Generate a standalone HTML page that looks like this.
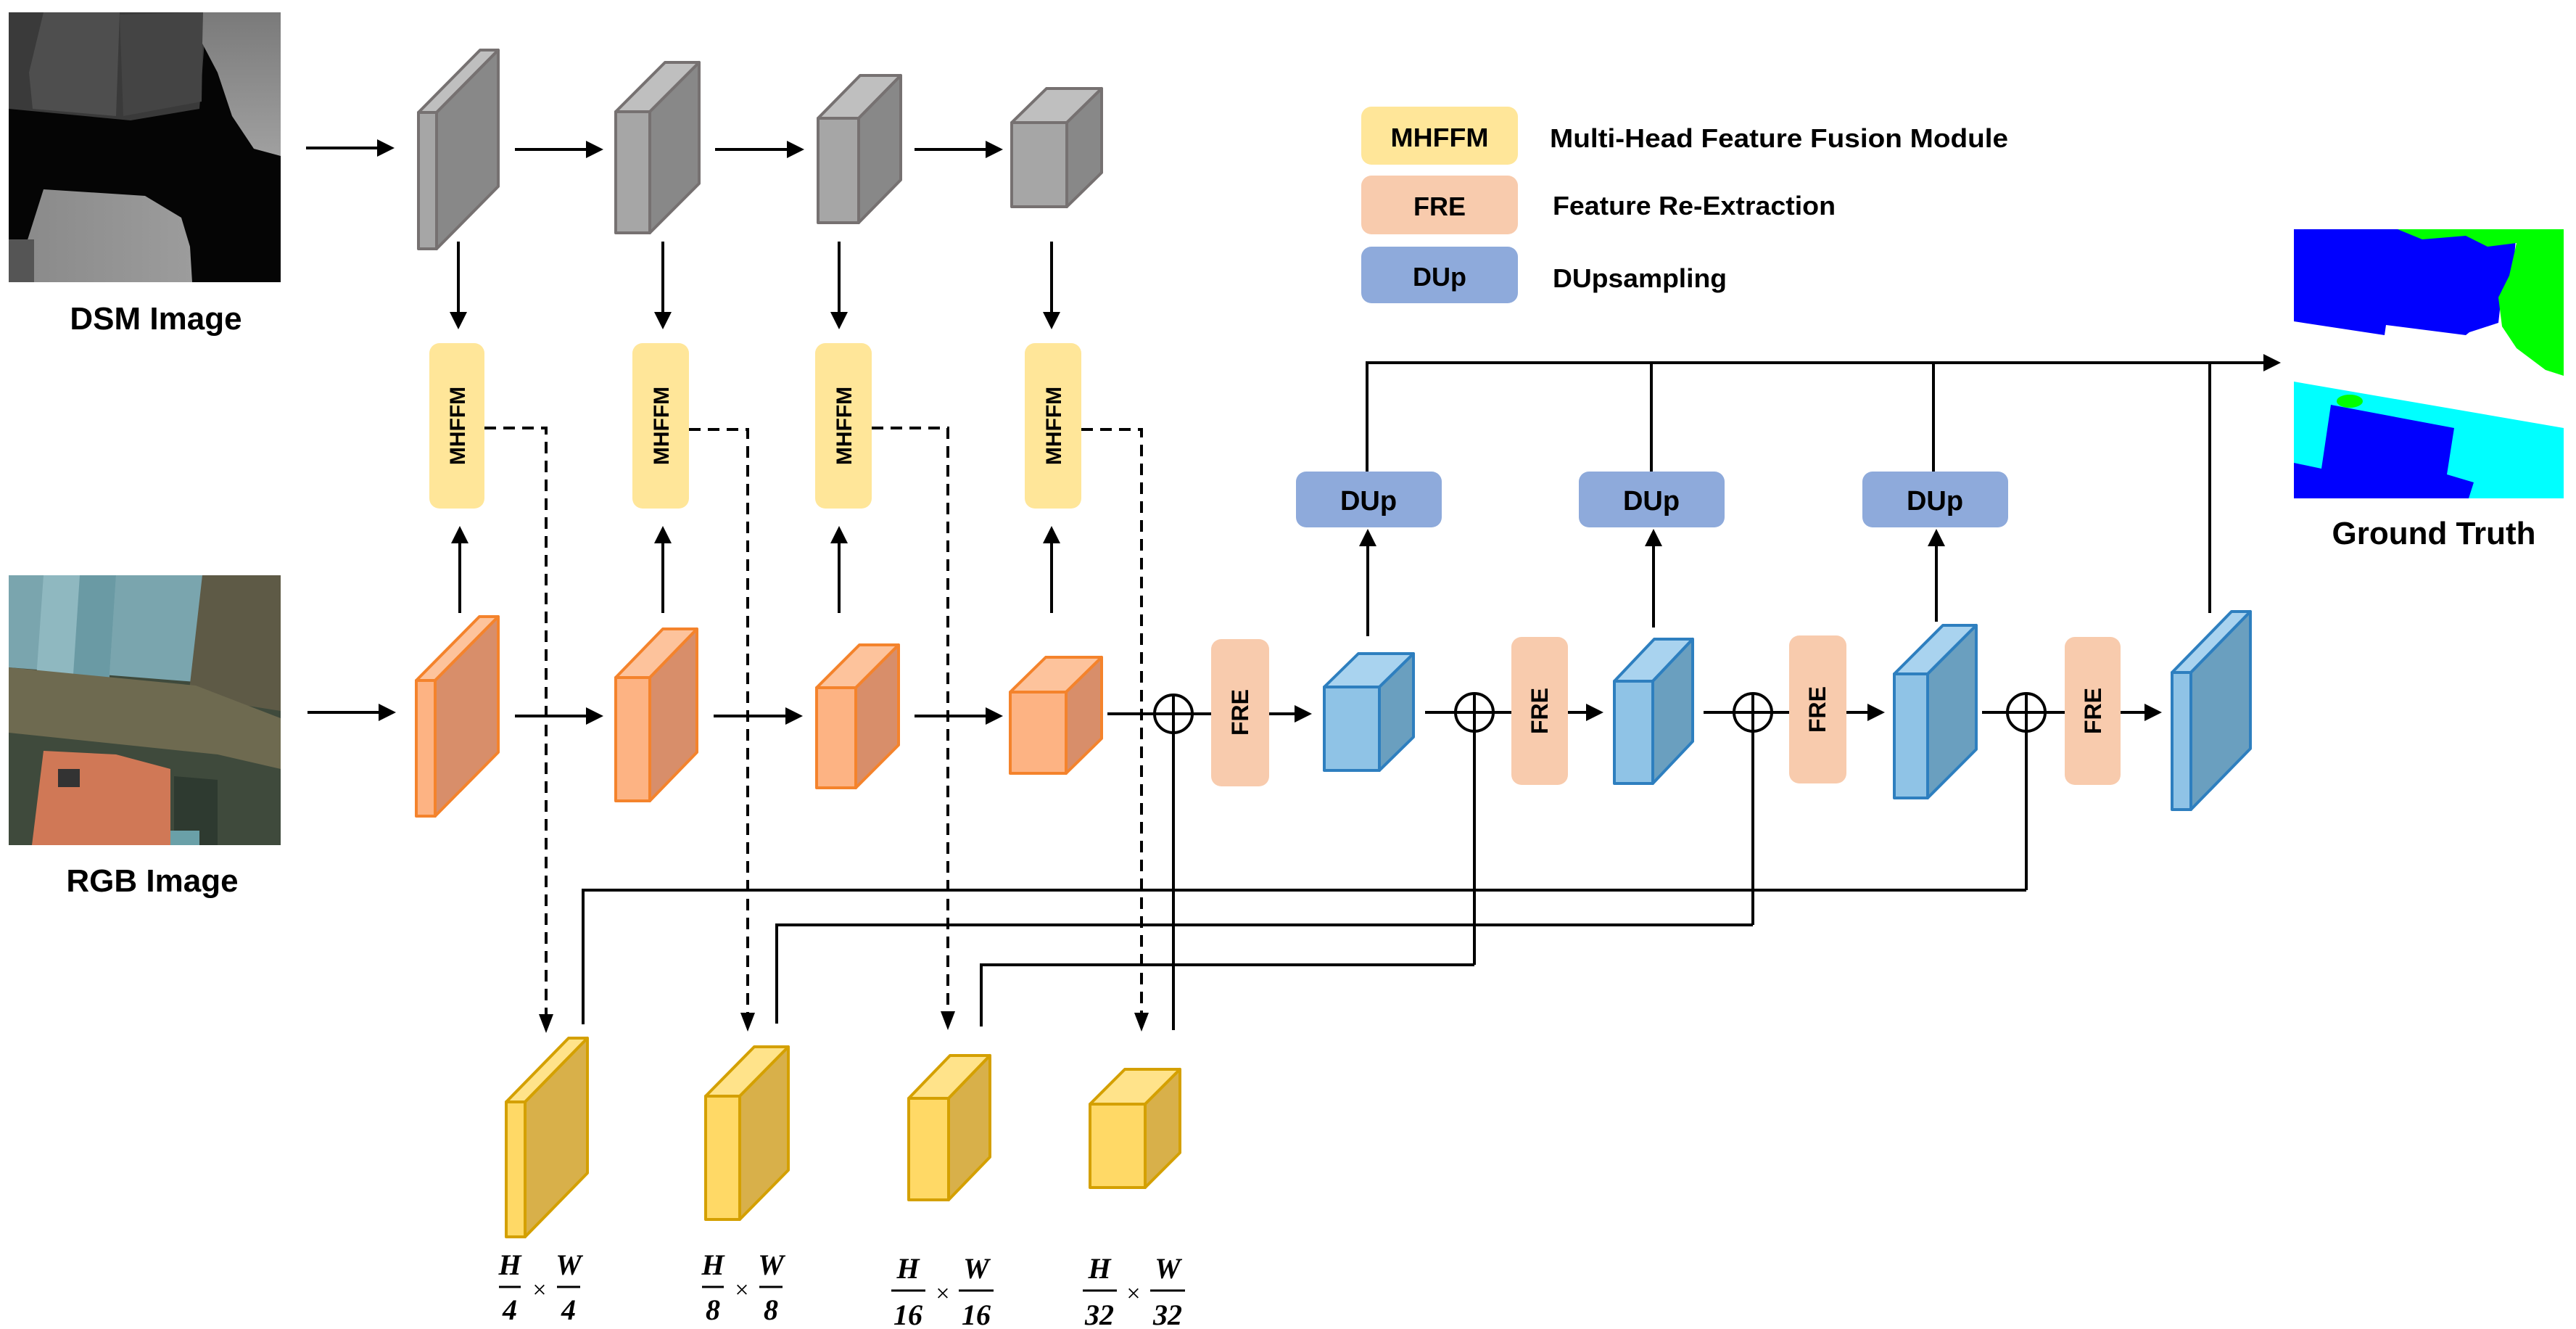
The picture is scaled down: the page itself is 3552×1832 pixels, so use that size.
<!DOCTYPE html>
<html><head><meta charset="utf-8"><style>
html,body{margin:0;padding:0;background:#fff;}
svg{display:block;}
.t{font-family:"Liberation Sans",sans-serif;font-weight:bold;fill:#000;}
.m{font-family:"Liberation Serif",serif;font-weight:bold;font-style:italic;fill:#000;font-size:40px;}
</style></head><body>
<svg width="3552" height="1832" viewBox="0 0 3552 1832" xmlns="http://www.w3.org/2000/svg">
<defs>
<marker id="a" markerWidth="6" markerHeight="6" refX="5" refY="3" orient="auto" markerUnits="strokeWidth"><path d="M0,0 L6,3 L0,6 z" fill="#000"/></marker>
<linearGradient id="dsm2" x1="0" y1="0" x2="1" y2="0"><stop offset="0" stop-color="#8a8a8a"/><stop offset="1" stop-color="#9c9c9c"/></linearGradient>
<linearGradient id="dsmR" x1="0" y1="0" x2="0" y2="1"><stop offset="0" stop-color="#7a7a7a"/><stop offset="1" stop-color="#a0a0a0"/></linearGradient>
</defs>

<!-- DSM image -->
<rect x="12" y="17" width="375" height="372" fill="#050505"/>
<polygon points="12,17 285,17 275,150 180,166 12,150" fill="#3a3a3a"/>
<polygon points="60,17 165,17 160,160 45,150 40,100" fill="#4e4e4e"/>
<polygon points="165,20 280,17 278,140 170,160" fill="#444"/>
<polygon points="280,17 387,17 387,215 350,205 320,160 300,100 279,60" fill="url(#dsmR)"/>
<polygon points="60,261 200,270 250,300 262,340 265,389 40,389 35,340" fill="url(#dsm2)"/>
<rect x="12" y="330" width="35" height="59" fill="#555"/>

<!-- RGB image -->
<rect x="12" y="793" width="375" height="372" fill="#3f4a3c"/>
<polygon points="12,793 279,793 270,940 12,920" fill="#7aa5ae"/>
<polygon points="60,793 160,793 150,945 50,935" fill="#8fb8c0"/>
<polygon points="110,793 160,793 150,945 100,945" fill="#6a9aa4"/>
<polygon points="279,793 387,793 387,980 260,960" fill="#5e5a46"/>
<polygon points="12,920 270,945 387,990 387,1060 300,1040 12,1010" fill="#6e6a50"/>
<polygon points="60,1035 160,1040 235,1060 235,1165 44,1165" fill="#d07856"/>
<rect x="80" y="1060" width="30" height="25" fill="#333"/>
<polygon points="240,1070 300,1075 300,1165 240,1165" fill="#2e3a30"/>
<rect x="235" y="1145" width="40" height="20" fill="#6aa0a8"/>

<text class="t" x="215" y="454" font-size="44" text-anchor="middle">DSM Image</text>
<text class="t" x="210" y="1229" font-size="44" text-anchor="middle">RGB Image</text>

<!-- Gray cubes -->
<g stroke="#767171" stroke-width="4" stroke-linejoin="round">
<polygon points="577,155 662,69 687,69 602,155" fill="#bfbfbf"/><polygon points="602,155 687,69 687,257 602,343" fill="#888"/><rect x="577" y="155" width="25" height="188" fill="#a6a6a6"/>
<polygon points="849,154 917,86 964,86 896,154" fill="#bfbfbf"/><polygon points="896,154 964,86 964,253 896,321" fill="#888"/><rect x="849" y="154" width="47" height="167" fill="#a6a6a6"/>
<polygon points="1128,163 1186,104 1242,104 1184,163" fill="#bfbfbf"/><polygon points="1184,163 1242,104 1242,248 1184,307" fill="#888"/><rect x="1128" y="163" width="56" height="144" fill="#a6a6a6"/>
<polygon points="1395,169 1443,122 1519,122 1471,169" fill="#bfbfbf"/><polygon points="1471,169 1519,122 1519,238 1471,285" fill="#888"/><rect x="1395" y="169" width="76" height="116" fill="#a6a6a6"/>
</g>

<!-- Orange cubes -->
<g stroke="#f4832c" stroke-width="4" stroke-linejoin="round">
<polygon points="574,938 661,850 687,850 600,938" fill="#fdc39c"/><polygon points="600,938 687,850 687,1037 600,1125" fill="#d88e6a"/><rect x="574" y="938" width="26" height="187" fill="#fdb383"/>
<polygon points="849,934 914,867 961,867 896,934" fill="#fdc39c"/><polygon points="896,934 961,867 961,1037 896,1104" fill="#d88e6a"/><rect x="849" y="934" width="47" height="170" fill="#fdb383"/>
<polygon points="1126,948 1185,889 1239,889 1180,948" fill="#fdc39c"/><polygon points="1180,948 1239,889 1239,1027 1180,1086" fill="#d88e6a"/><rect x="1126" y="948" width="54" height="138" fill="#fdb383"/>
<polygon points="1393,954 1442,906 1519,906 1470,954" fill="#fdc39c"/><polygon points="1470,954 1519,906 1519,1018 1470,1066" fill="#d88e6a"/><rect x="1393" y="954" width="77" height="112" fill="#fdb383"/>
</g>

<!-- Yellow cubes -->
<g stroke="#d4a000" stroke-width="4" stroke-linejoin="round">
<polygon points="698,1519 784,1431 810,1431 724,1519" fill="#ffe38a"/><polygon points="724,1519 810,1431 810,1617 724,1705" fill="#d8b04a"/><rect x="698" y="1519" width="26" height="186" fill="#ffd966"/>
<polygon points="973,1511 1040,1443 1087,1443 1020,1511" fill="#ffe38a"/><polygon points="1020,1511 1087,1443 1087,1613 1020,1681" fill="#d8b04a"/><rect x="973" y="1511" width="47" height="170" fill="#ffd966"/>
<polygon points="1253,1514 1310,1455 1365,1455 1308,1514" fill="#ffe38a"/><polygon points="1308,1514 1365,1455 1365,1595 1308,1654" fill="#d8b04a"/><rect x="1253" y="1514" width="55" height="140" fill="#ffd966"/>
<polygon points="1503,1522 1551,1474 1627,1474 1579,1522" fill="#ffe38a"/><polygon points="1579,1522 1627,1474 1627,1589 1579,1637" fill="#d8b04a"/><rect x="1503" y="1522" width="76" height="115" fill="#ffd966"/>
</g>

<!-- Blue cubes -->
<g stroke="#2e7fbf" stroke-width="4" stroke-linejoin="round">
<polygon points="1826,947 1873,901 1949,901 1902,947" fill="#a9d3ef"/><polygon points="1902,947 1949,901 1949,1016 1902,1062" fill="#6a9fbf"/><rect x="1826" y="947" width="76" height="115" fill="#8fc3e6"/>
<polygon points="2226,939 2281,881 2334,881 2279,939" fill="#a9d3ef"/><polygon points="2279,939 2334,881 2334,1022 2279,1080" fill="#6a9fbf"/><rect x="2226" y="939" width="53" height="141" fill="#8fc3e6"/>
<polygon points="2612,929 2679,862 2725,862 2658,929" fill="#a9d3ef"/><polygon points="2658,929 2725,862 2725,1033 2658,1100" fill="#6a9fbf"/><rect x="2612" y="929" width="46" height="171" fill="#8fc3e6"/>
<polygon points="2995,927 3077,843 3103,843 3021,927" fill="#a9d3ef"/><polygon points="3021,927 3103,843 3103,1032 3021,1116" fill="#6a9fbf"/><rect x="2995" y="927" width="26" height="189" fill="#8fc3e6"/>
</g>

<!-- MHFFM boxes -->
<g fill="#ffe699">
<rect x="592" y="473" width="76" height="228" rx="14"/>
<rect x="872" y="473" width="78" height="228" rx="14"/>
<rect x="1124" y="473" width="78" height="228" rx="14"/>
<rect x="1413" y="473" width="78" height="228" rx="14"/>
</g>
<g class="t" font-size="30" text-anchor="middle">
<text transform="translate(641,587) rotate(-90)">MHFFM</text>
<text transform="translate(922,587) rotate(-90)">MHFFM</text>
<text transform="translate(1174,587) rotate(-90)">MHFFM</text>
<text transform="translate(1463,587) rotate(-90)">MHFFM</text>
</g>

<!-- FRE boxes -->
<g fill="#f8cbad">
<rect x="1670" y="881" width="80" height="203" rx="14"/>
<rect x="2084" y="878" width="78" height="204" rx="14"/>
<rect x="2467" y="876" width="79" height="204" rx="14"/>
<rect x="2847" y="878" width="77" height="204" rx="14"/>
</g>
<g class="t" font-size="32" text-anchor="middle">
<text transform="translate(1721,982) rotate(-90)">FRE</text>
<text transform="translate(2134,980) rotate(-90)">FRE</text>
<text transform="translate(2517,978) rotate(-90)">FRE</text>
<text transform="translate(2897,980) rotate(-90)">FRE</text>
</g>

<!-- DUp boxes -->
<g fill="#8eaadb">
<rect x="1787" y="650" width="201" height="77" rx="14"/>
<rect x="2177" y="650" width="201" height="77" rx="14"/>
<rect x="2568" y="650" width="201" height="77" rx="14"/>
</g>
<g class="t" font-size="38" text-anchor="middle">
<text x="1887" y="703">DUp</text>
<text x="2277" y="703">DUp</text>
<text x="2668" y="703">DUp</text>
</g>

<!-- Legend -->
<rect x="1877" y="147" width="216" height="80" rx="14" fill="#ffe699"/>
<rect x="1877" y="242" width="216" height="81" rx="14" fill="#f8cbad"/>
<rect x="1877" y="340" width="216" height="78" rx="14" fill="#8eaadb"/>
<g class="t" font-size="36">
<text x="1985" y="202" text-anchor="middle" textLength="135" lengthAdjust="spacingAndGlyphs">MHFFM</text>
<text x="1985" y="297" text-anchor="middle">FRE</text>
<text x="1985" y="394" text-anchor="middle">DUp</text>
<text x="2137" y="203" textLength="632" lengthAdjust="spacingAndGlyphs">Multi-Head Feature Fusion Module</text>
<text x="2141" y="296" textLength="390" lengthAdjust="spacingAndGlyphs">Feature Re-Extraction</text>
<text x="2141" y="396" textLength="240" lengthAdjust="spacingAndGlyphs">DUpsampling</text>
</g>

<!-- Ground truth -->
<rect x="3163" y="316" width="372" height="202" fill="#fff"/>
<polygon points="3163,316 3470,316 3465,380 3450,400 3445,445 3405,458 3400,462 3290,448 3288,462 3163,443" fill="#0000ff"/>
<polygon points="3306,316 3535,316 3535,518 3510,510 3470,480 3450,450 3445,410 3460,380 3470,335 3430,340 3400,325 3340,330" fill="#00ff00"/>
<rect x="3163" y="526" width="372" height="161" fill="#00ffff"/>
<polygon points="3163,526 3535,590 3535,526" fill="#fff"/>
<polygon points="3214,558 3384,590 3374,654 3411,665 3404,687 3163,687 3163,638 3201,646" fill="#0000ff"/>
<ellipse cx="3240" cy="553" rx="18" ry="9" fill="#00ff00"/>
<text class="t" x="3356" y="750" font-size="44" text-anchor="middle">Ground Truth</text>

<!-- Connectors -->
<g stroke="#000" stroke-width="4" fill="none">
<line x1="422" y1="204" x2="540" y2="204" marker-end="url(#a)"/>
<line x1="710" y1="206" x2="828" y2="206" marker-end="url(#a)"/>
<line x1="986" y1="206" x2="1105" y2="206" marker-end="url(#a)"/>
<line x1="1261" y1="206" x2="1379" y2="206" marker-end="url(#a)"/>
<line x1="632" y1="333" x2="632" y2="450" marker-end="url(#a)"/>
<line x1="914" y1="333" x2="914" y2="450" marker-end="url(#a)"/>
<line x1="1157" y1="333" x2="1157" y2="450" marker-end="url(#a)"/>
<line x1="1450" y1="333" x2="1450" y2="450" marker-end="url(#a)"/>
<line x1="424" y1="982" x2="542" y2="982" marker-end="url(#a)"/>
<line x1="710" y1="987" x2="828" y2="987" marker-end="url(#a)"/>
<line x1="984" y1="987" x2="1103" y2="987" marker-end="url(#a)"/>
<line x1="1261" y1="987" x2="1379" y2="987" marker-end="url(#a)"/>
<line x1="634" y1="845" x2="634" y2="729" marker-end="url(#a)"/>
<line x1="914" y1="845" x2="914" y2="729" marker-end="url(#a)"/>
<line x1="1157" y1="845" x2="1157" y2="729" marker-end="url(#a)"/>
<line x1="1450" y1="845" x2="1450" y2="729" marker-end="url(#a)"/>
<line x1="1527" y1="984" x2="1592" y2="984"/>
<line x1="1644" y1="984" x2="1670" y2="984"/>
<line x1="1750" y1="984" x2="1805" y2="984" marker-end="url(#a)"/>
<line x1="1965" y1="982" x2="2007" y2="982"/>
<line x1="2059" y1="982" x2="2084" y2="982"/>
<line x1="2162" y1="982" x2="2207" y2="982" marker-end="url(#a)"/>
<line x1="2349" y1="982" x2="2391" y2="982"/>
<line x1="2443" y1="982" x2="2467" y2="982"/>
<line x1="2546" y1="982" x2="2595" y2="982" marker-end="url(#a)"/>
<line x1="2733" y1="982" x2="2768" y2="982"/>
<line x1="2820" y1="982" x2="2847" y2="982"/>
<line x1="2924" y1="982" x2="2977" y2="982" marker-end="url(#a)"/>
<circle cx="1618" cy="984" r="26"/><line x1="1592" y1="984" x2="1644" y2="984"/><line x1="1618" y1="958" x2="1618" y2="1420"/>
<circle cx="2033" cy="982" r="26"/><line x1="2007" y1="982" x2="2059" y2="982"/><line x1="2033" y1="956" x2="2033" y2="1330"/>
<circle cx="2417" cy="982" r="26"/><line x1="2391" y1="982" x2="2443" y2="982"/><line x1="2417" y1="956" x2="2417" y2="1275"/>
<circle cx="2794" cy="982" r="26"/><line x1="2768" y1="982" x2="2820" y2="982"/><line x1="2794" y1="956" x2="2794" y2="1227"/>
<polyline points="804,1412 804,1227 2794,1227"/>
<polyline points="1071,1411 1071,1275 2417,1275"/>
<polyline points="1353,1415 1353,1330 2033,1330"/>
<line x1="1886" y1="877" x2="1886" y2="733" marker-end="url(#a)"/>
<line x1="2280" y1="865" x2="2280" y2="733" marker-end="url(#a)"/>
<line x1="2670" y1="857" x2="2670" y2="733" marker-end="url(#a)"/>
<line x1="1885" y1="650" x2="1885" y2="500"/>
<line x1="2277" y1="650" x2="2277" y2="500"/>
<line x1="2666" y1="650" x2="2666" y2="500"/>
<line x1="3047" y1="845" x2="3047" y2="500"/>
<line x1="1883" y1="500" x2="3141" y2="500" marker-end="url(#a)"/>
</g>
<g stroke="#000" stroke-width="4" fill="none" stroke-dasharray="16,10">
<polyline points="668,590 753,590 753,1400"/>
<polyline points="950,592 1031,592 1031,1398"/>
<polyline points="1202,590 1307,590 1307,1396"/>
<polyline points="1491,592 1574,592 1574,1398"/>
</g>
<g fill="#000">
<polygon points="743,1398 763,1398 753,1424"/>
<polygon points="1021,1396 1041,1396 1031,1422"/>
<polygon points="1297,1394 1317,1394 1307,1420"/>
<polygon points="1564,1396 1584,1396 1574,1422"/>
</g>

<!-- fraction labels -->
<g class="m" text-anchor="middle">
<text x="703" y="1757">H</text><text x="784" y="1757">W</text><text x="703" y="1819">4</text><text x="784" y="1819">4</text><text x="744" y="1789" font-style="normal" font-weight="normal" font-size="34">×</text>
<text x="983" y="1757">H</text><text x="1063" y="1757">W</text><text x="983" y="1819">8</text><text x="1063" y="1819">8</text><text x="1023" y="1789" font-style="normal" font-weight="normal" font-size="34">×</text>
<text x="1252" y="1762">H</text><text x="1346" y="1762">W</text><text x="1252" y="1826">16</text><text x="1346" y="1826">16</text><text x="1300" y="1794" font-style="normal" font-weight="normal" font-size="34">×</text>
<text x="1516" y="1762">H</text><text x="1610" y="1762">W</text><text x="1516" y="1826">32</text><text x="1610" y="1826">32</text><text x="1563" y="1794" font-style="normal" font-weight="normal" font-size="34">×</text>
</g>
<g stroke="#000" stroke-width="3">
<line x1="688" y1="1774" x2="718" y2="1774"/><line x1="768" y1="1774" x2="800" y2="1774"/>
<line x1="968" y1="1774" x2="998" y2="1774"/><line x1="1047" y1="1774" x2="1079" y2="1774"/>
<line x1="1229" y1="1779" x2="1276" y2="1779"/><line x1="1322" y1="1779" x2="1370" y2="1779"/>
<line x1="1493" y1="1779" x2="1540" y2="1779"/><line x1="1586" y1="1779" x2="1634" y2="1779"/>
</g>
</svg>
</body></html>
